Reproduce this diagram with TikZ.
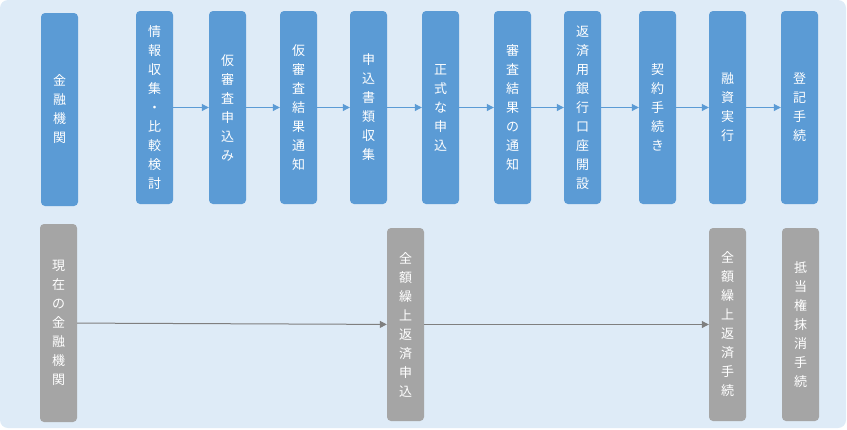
\documentclass[tikz,border=0pt]{standalone}
\usepackage{fontspec}
\newfontfamily\jpfont{Noto Sans CJK JP}
\usetikzlibrary{arrows.meta}
\definecolor{bgblue}{HTML}{DEEBF7}
\definecolor{stepblue}{HTML}{5B9BD5}
\definecolor{stepgray}{HTML}{A5A5A5}
\definecolor{arrowgray}{HTML}{7F7F7F}

\begin{document}
\begin{tikzpicture}[x=1pt, y=-1pt,
    box/.style={rounded corners=4pt, minimum width=37pt, minimum height=193pt,
        inner sep=0pt, align=center, text=white,
        font=\jpfont\fontsize{13}{19}\selectfont},
    bluebox/.style={box, fill=stepblue},
    graybox/.style={box, fill=stepgray},
    flow/.style={-{Triangle[length=7pt, width=7pt]}, line width=1pt}]

    % 1. Background panel
    \useasboundingbox (0,0) rectangle (847,429);
    \fill[bgblue, rounded corners=8pt] (0,0) rectangle (846,428);

    % 2. Upper row: new loan steps
    \node[bluebox] (f1) at (59.5,109.5) {金\\融\\機\\関};
    \node[bluebox] (f2) at (154.5,107.5) {情\\報\\収\\集\\・\\比\\較\\検\\討};
    \node[bluebox] (f3) at (227.5,107.5) {仮\\審\\査\\申\\込\\み};
    \node[bluebox] (f4) at (298.5,107.5) {仮\\審\\査\\結\\果\\通\\知};
    \node[bluebox] (f5) at (368.5,107.5) {申\\込\\書\\類\\収\\集};
    \node[bluebox] (f6) at (440.5,107.5) {正\\式\\な\\申\\込};
    \node[bluebox] (f7) at (512.5,107.5) {審\\査\\結\\果\\の\\通\\知};
    \node[bluebox] (f8) at (582.5,107.5) {返\\済\\用\\銀\\行\\口\\座\\開\\設};
    \node[bluebox] (f9) at (657.5,107.5) {契\\約\\手\\続\\き};
    \node[bluebox] (f10) at (727.5,107.5) {融\\資\\実\\行};
    \node[bluebox] (f11) at (799.5,107.5) {登\\記\\手\\続};

    % 3. Lower row: current lender steps
    \node[graybox, minimum height=198pt] (g1) at (58.5,323) {現\\在\\の\\金\\融\\機\\関};
    \node[graybox] (g2) at (405.5,324.5) {全\\額\\繰\\上\\返\\済\\申\\込};
    \node[graybox] (g3) at (727.5,324.5) {全\\額\\繰\\上\\返\\済\\手\\続};
    \node[graybox] (g4) at (800.5,324.5) {抵\\当\\権\\抹\\消\\手\\続};

    % 4. Connectors
    \foreach \a/\b in {f2/f3, f3/f4, f4/f5, f5/f6, f6/f7, f7/f8, f8/f9, f9/f10, f10/f11}
        \draw[flow, stepblue] (\a) -- (\b);
    \draw[flow, arrowgray] (g1) -- (g2);
    \draw[flow, arrowgray] (g2) -- (g3);

\end{tikzpicture}
\end{document}
